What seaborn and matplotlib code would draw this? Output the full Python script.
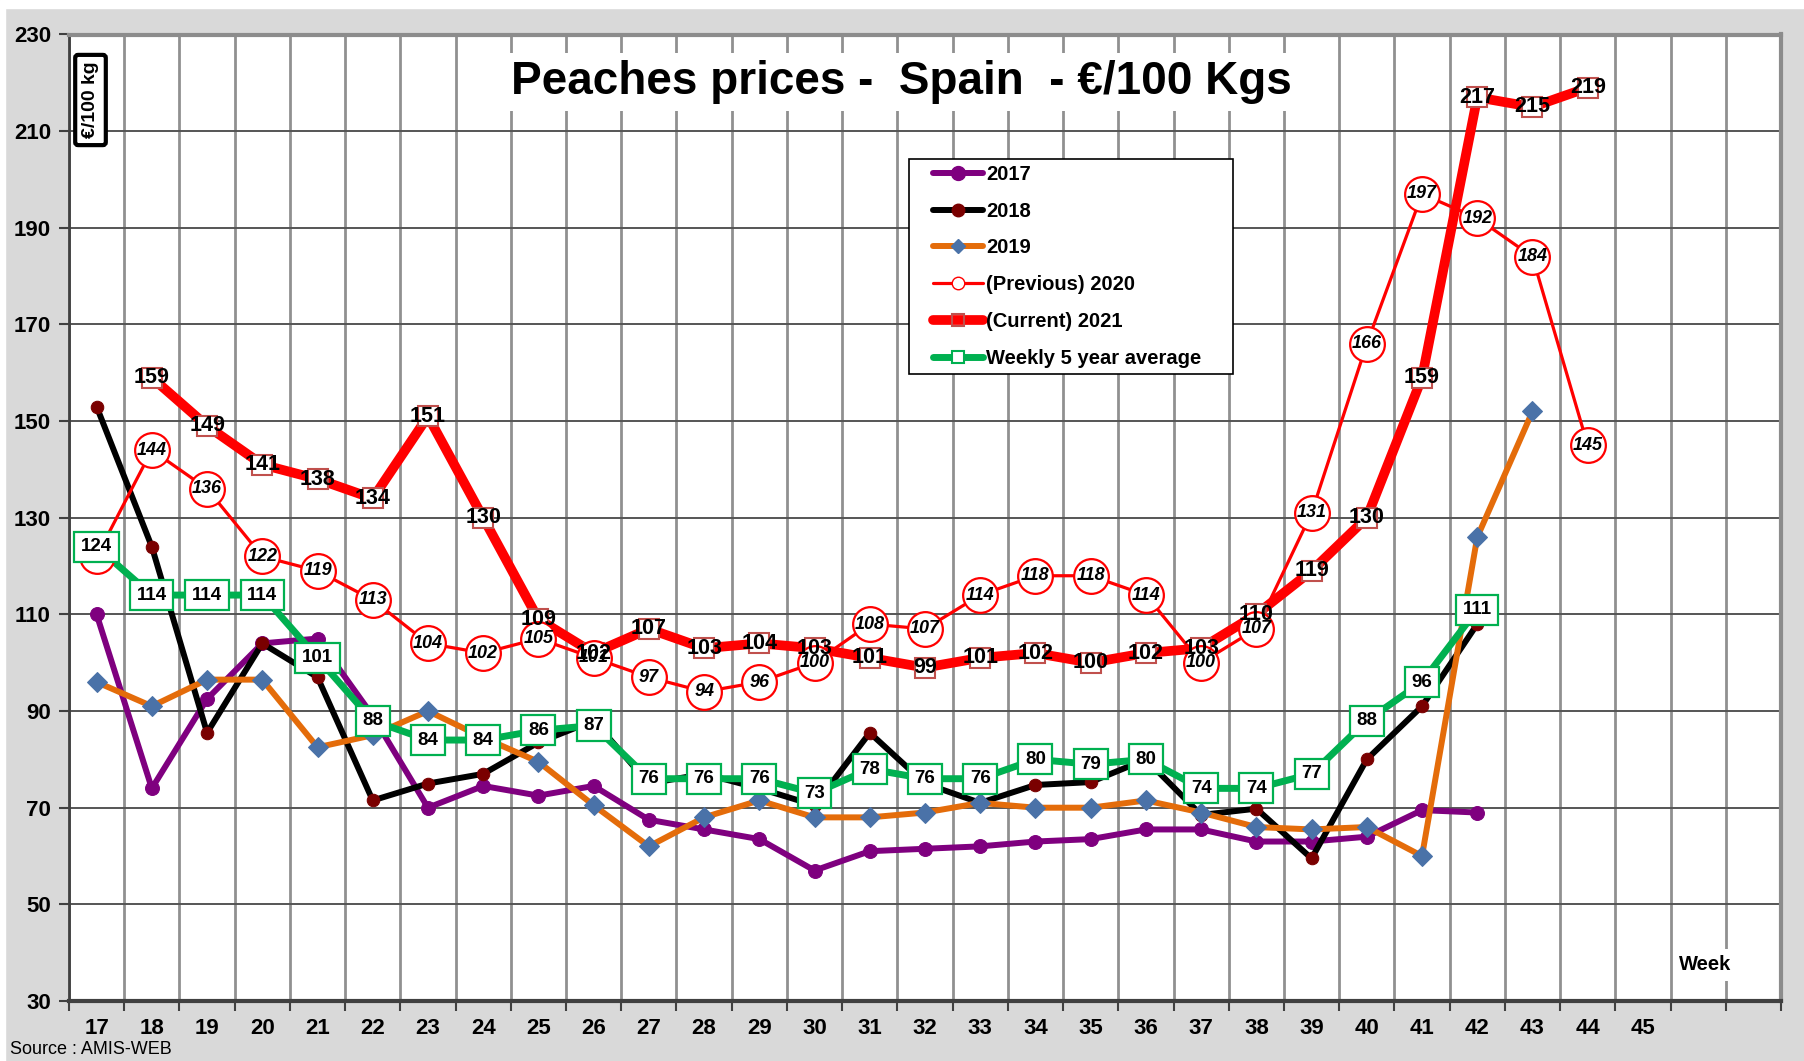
import matplotlib

matplotlib.use("Agg")
import matplotlib.pyplot as plt
import seaborn as sns
from matplotlib.lines import Line2D
from matplotlib.patches import Rectangle

weeks_axis = list(range(17, 48))
week_labels = [str(w) if w <= 45 else "" for w in weeks_axis]
y_ticks = list(range(30, 231, 20))

weeks_2017 = list(range(17, 43))
price_2017 = [110, 74, 92.5, 104, 105, 89, 70, 74.5, 72.5, 74.5, 67.5, 65.5, 63.5, 57, 61,
              61.5, 62, 63, 63.5, 65.5, 65.5, 63, 63, 64, 69.5, 69]
weeks_2018 = list(range(17, 43))
price_2018 = [153, 124, 85.5, 104, 97, 71.5, 75, 77, 83.5, 88, 75, 77, 74, 70.5, 85.5,
              75, 71, 74.7, 75.3, 80, 68.5, 69.8, 59.5, 80, 91, 108]
weeks_2019 = list(range(17, 44))
price_2019 = [96, 91, 96.5, 96.5, 82.5, 85, 90, 84.5, 79.5, 70.5, 62, 68, 71.5, 68, 68,
              69, 71, 70, 70, 71.5, 69, 66, 65.5, 66, 60, 126, 152]
weeks_2020 = list(range(17, 45))
price_2020 = [122, 144, 136, 122, 119, 113, 104, 102, 105, 101, 97, 94, 96, 100, 108,
              107, 114, 118, 118, 114, 100, 107, 131, 166, 197, 192, 184, 145]
weeks_2021 = list(range(18, 45))
price_2021 = [159, 149, 141, 138, 134, 151, 130, 109, 102, 107, 103, 104, 103, 101, 99,
              101, 102, 100, 102, 103, 110, 119, 130, 159, 217, 215, 219]
weeks_avg = list(range(17, 43))
price_avg = [124, 114, 114, 114, 101, 88, 84, 84, 86, 87, 76, 76, 76, 73, 78, 76, 76,
             80, 79, 80, 74, 74, 77, 88, 96, 111]

PURPLE = "#7f007f"
DARKRED = "#7a0000"
ORANGE = "#e46c0a"
BLUE = "#4a72a8"
RED = "#ff0000"
BROWN = "#c0504d"
GREEN = "#00b050"
BG = "#d9d9d9"

sns.set_theme(style="white")
plt.rcParams["font.family"] = ["Liberation Sans", "DejaVu Sans"]
plt.rcParams["text.color"] = "black"
plt.rcParams["xtick.color"] = "black"
plt.rcParams["ytick.color"] = "black"
plt.rcParams["axes.labelcolor"] = "black"

fig = plt.figure(figsize=(18.04, 10.61), dpi=100, facecolor=BG)
fig.patches.append(Rectangle((0, 1 - 8 / 1061), 1, 8 / 1061, transform=fig.transFigure,
                             color="white", zorder=0))
fig.patches.append(Rectangle((0, 0), 5 / 1804, 1, transform=fig.transFigure,
                             color="white", zorder=0))
ax = fig.add_axes([69 / 1804, 60 / 1061, 1712 / 1804, 966.5 / 1061])
ax.set_facecolor("white")

sns.lineplot(x=weeks_2017, y=price_2017, ax=ax, color=PURPLE, lw=4.3, marker="o",
             markersize=10, markerfacecolor=PURPLE, markeredgecolor=PURPLE, zorder=3)
sns.lineplot(x=weeks_2018, y=price_2018, ax=ax, color="black", lw=4.3, marker="o",
             markersize=9, markerfacecolor=DARKRED, markeredgecolor=DARKRED, zorder=4)
sns.lineplot(x=weeks_2019, y=price_2019, ax=ax, color=ORANGE, lw=4.3, marker="D",
             markersize=10, markerfacecolor=BLUE, markeredgecolor=BLUE, zorder=5)
sns.lineplot(x=weeks_2020, y=price_2020, ax=ax, color=RED, lw=2.3, zorder=6)
sns.lineplot(x=weeks_2021, y=price_2021, ax=ax, color=RED, lw=7, marker="s",
             markersize=14, markerfacecolor="white", markeredgecolor=BROWN,
             markeredgewidth=1.5, zorder=7)
sns.lineplot(x=weeks_avg, y=price_avg, ax=ax, color=GREEN, lw=5, zorder=8)

# 2020 labels sit in white circles
ax.plot(weeks_2020, price_2020, ls="none", marker="o", markersize=25,
        markerfacecolor="white", markeredgecolor=RED, markeredgewidth=1.6, zorder=9)
for w, v in zip(weeks_2020, price_2020):
    ax.text(w, v, f"{v:.0f}", ha="center", va="center", fontsize=13, fontweight="bold",
            fontstyle="italic", zorder=10)
for w, v in zip(weeks_2021, price_2021):
    ax.text(w, v, f"{v:.0f}", ha="center", va="center", fontsize=15.5, fontweight="bold",
            color="black", zorder=11)
for w, v in zip(weeks_avg, price_avg):
    ax.text(w, v, f"{v:.0f}", ha="center", va="center", fontsize=13.5, fontweight="bold",
            zorder=12, bbox=dict(boxstyle="square,pad=0.35", fc="white", ec=GREEN, lw=1.6))

ax.set_xlim(16.5, 47.5)
ax.set_ylim(30, 230)
ax.set_xticks(weeks_axis)
ax.set_xticklabels(week_labels)
ax.set_xticks([w - 0.5 for w in weeks_axis] + [47.5], minor=True)
ax.set_yticks(y_ticks)
ax.tick_params(axis="x", which="major", length=0, pad=12, labelsize=16)
ax.tick_params(axis="x", which="minor", length=7, width=1.5, color="#404040", bottom=True)
ax.tick_params(axis="y", which="major", length=7, width=1.5, color="#404040", left=True,
               pad=6, labelsize=16)
for lab in ax.get_xticklabels() + ax.get_yticklabels():
    lab.set_fontweight("bold")
ax.grid(False)
ax.grid(axis="x", which="minor", color="#909090", lw=2)
ax.grid(axis="y", which="major", color="#555555", lw=1.4)
ax.set_axisbelow(True)
for side in ["top", "right"]:
    ax.spines[side].set_color("#8c8c8c")
    ax.spines[side].set_linewidth(3)
ax.spines["left"].set_color("#404040")
ax.spines["left"].set_linewidth(2)
ax.spines["bottom"].set_color("#404040")
ax.spines["bottom"].set_linewidth(3)
ax.set_xlabel("")
ax.set_ylabel("")

handles = [
    Line2D([], [], color=PURPLE, lw=4.3, marker="o", markersize=10, markerfacecolor=PURPLE,
           markeredgecolor=PURPLE, label="2017"),
    Line2D([], [], color="black", lw=4.3, marker="o", markersize=9, markerfacecolor=DARKRED,
           markeredgecolor=DARKRED, label="2018"),
    Line2D([], [], color=ORANGE, lw=4.3, marker="D", markersize=7, markerfacecolor=BLUE,
           markeredgecolor=BLUE, label="2019"),
    Line2D([], [], color=RED, lw=2.3, marker="o", markersize=9, markerfacecolor="white",
           markeredgecolor=RED, label="(Previous) 2020"),
    Line2D([], [], color=RED, lw=7, marker="s", markersize=9, markerfacecolor="none",
           markeredgecolor=BROWN, markeredgewidth=1.5, label="(Current) 2021"),
    Line2D([], [], color=GREEN, lw=5, marker="s", markersize=8, markerfacecolor="white",
           markeredgecolor=GREEN, markeredgewidth=1.5, label="Weekly 5 year average"),
]
legend_box = Rectangle((909 / 1804, 1 - 374 / 1061), 324 / 1804, 215 / 1061,
                       transform=fig.transFigure, fc="white", ec="black", lw=1.2,
                       zorder=19, clip_on=False)
ax.add_patch(legend_box)
leg = ax.legend(handles=handles, loc="upper left", bbox_to_anchor=(933 / 1804, 1 - 165 / 1061),
                bbox_transform=fig.transFigure, borderaxespad=0, frameon=False,
                prop={"weight": "bold", "size": 14.5}, handlelength=2.5,
                handletextpad=0.15, labelspacing=0.88, borderpad=0)
leg.set_zorder(20)

fig.text(901 / 1804, 1 - 82 / 1061, "Peaches prices -  Spain  - €/100 Kgs", ha="center",
         va="center", fontsize=33, fontweight="bold",
         bbox=dict(boxstyle="square,pad=0.15", fc="white", ec="none"))
fig.text(90.5 / 1804, 1 - 100 / 1061, "€/100 kg", rotation=90, ha="center", va="center",
         fontsize=14, fontweight="bold",
         bbox=dict(boxstyle="round,pad=0.35,rounding_size=0.15", fc="white", ec="black", lw=3))
fig.text(1705 / 1804, 1 - 965 / 1061, "Week", ha="center", va="center", fontsize=14.5,
         fontweight="bold", bbox=dict(boxstyle="square,pad=0.3", fc="white", ec="none"))
fig.text(10 / 1804, 1 - 1050 / 1061, "Source : AMIS-WEB", ha="left", va="center", fontsize=13)

fig.savefig("out.png", dpi=100, facecolor=BG)
